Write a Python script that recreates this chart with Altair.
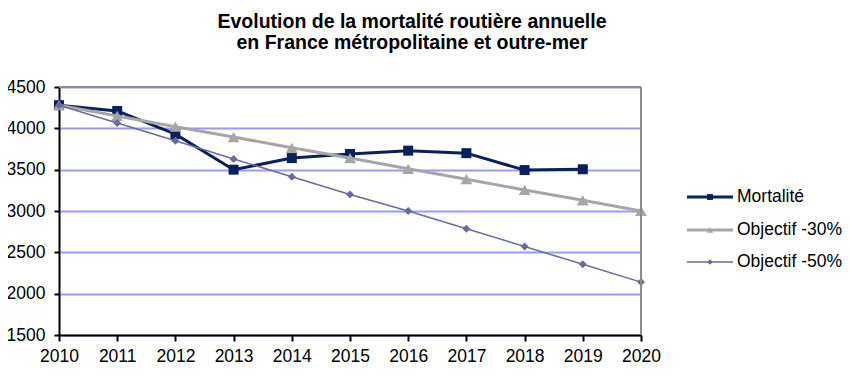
import altair as alt
import pandas as pd

years = [2010, 2011, 2012, 2013, 2014, 2015, 2016, 2017, 2018, 2019, 2020]
mortalite = [4280, 4210, 3930, 3500, 3640, 3690, 3730, 3700, 3495, 3505, None]
objectif_30 = [4280, 4150, 4020, 3895, 3765, 3640, 3510, 3385, 3255, 3130, 3000]
objectif_50 = [4280, 4065, 3850, 3630, 3415, 3200, 3000, 2785, 2570, 2355, 2140]
series_names = ["Mortalité", "Objectif -30%", "Objectif -50%"]
y_ticks = [1500, 2000, 2500, 3000, 3500, 4000, 4500]
title_lines = ["Evolution  de la mortalité routière annuelle",
               "en France métropolitaine  et outre-mer"]

colors = ["#0B1F5E", "#A6A6A6", "#6A6A9E"]
widths = [3, 3, 1.5]
shapes = ["square", "triangle-up", "diamond"]
sizes = [100, 140, 64]
legend_sizes = [35, 40, 28]
legend_y = [110, 143, 175]

rows = []
for name, vals in zip(series_names, [mortalite, objectif_30, objectif_50]):
    for yr, v in zip(years, vals):
        if v is not None:
            rows.append({"year": yr, "value": v, "series": name})
df = pd.DataFrame(rows)

W, H = 582, 248
FONT = "Liberation Sans"

x_enc = alt.X("year:Q", scale=alt.Scale(domain=[2010, 2020], nice=False, zero=False),
              axis=alt.Axis(values=years, format="d", title=None, grid=False,
                            labelFlush=False, tickSize=6, labelPadding=6))
y_enc = alt.Y("value:Q", scale=alt.Scale(domain=[1500, 4500], nice=False, zero=False),
              axis=alt.Axis(values=y_ticks, format="d", title=None, grid=True, tickSize=5,
                            labelPadding=9))

layers = []
for name, c, w, s, sz in zip(series_names, colors, widths, shapes, sizes):
    b = alt.Chart(df).transform_filter(alt.datum.series == name).encode(x=x_enc, y=y_enc)
    layers.append(b.mark_line(color=c, strokeWidth=w))
    layers.append(b.mark_point(shape=s, size=sz, filled=True, color=c, opacity=1))

# plot border (top and right)
border_df = pd.DataFrame({"k": [0]})
layers.append(alt.Chart(border_df).mark_rule(color="#8C8C8C", strokeWidth=2).encode(
    x=alt.value(0), x2=alt.value(W), y=alt.value(0)))
layers.append(alt.Chart(border_df).mark_rule(color="#8C8C8C", strokeWidth=2).encode(
    x=alt.value(W), y=alt.value(0), y2=alt.value(H)))

# manual legend
for name, c, w, s, lsz, ly in zip(series_names, colors, widths, shapes, legend_sizes, legend_y):
    ldf = pd.DataFrame({"label": [name]})
    lb = alt.Chart(ldf)
    layers.append(lb.mark_rule(color=c, strokeWidth=w).encode(
        x=alt.value(628), x2=alt.value(674), y=alt.value(ly)))
    layers.append(lb.mark_point(shape=s, size=lsz, filled=True, color=c, opacity=1).encode(
        x=alt.value(651), y=alt.value(ly)))
    layers.append(lb.mark_text(align="left", baseline="middle", font=FONT, fontSize=17.5,
                               color="black").encode(
        x=alt.value(678), y=alt.value(ly), text="label:N"))

chart = alt.layer(*layers).properties(
    width=W, height=H,
    autosize=alt.AutoSizeParams(type="none"),
    padding={"left": 51, "top": 79, "right": 201, "bottom": 33},
    title=alt.TitleParams(text=title_lines, font=FONT, fontSize=19.5, fontWeight="bold",
                          anchor="middle", dx=62, offset=25, lineHeight=21, color="black"),
).configure_view(stroke=None).configure_axis(
    labelFont=FONT, labelFontSize=17.5, labelColor="black",
    domainColor="black", domainWidth=2, tickColor="black", tickWidth=2,
    gridColor="#9999FF", gridWidth=2,
)

chart.save("out.html", embed_options={"renderer": "svg", "actions": False})
